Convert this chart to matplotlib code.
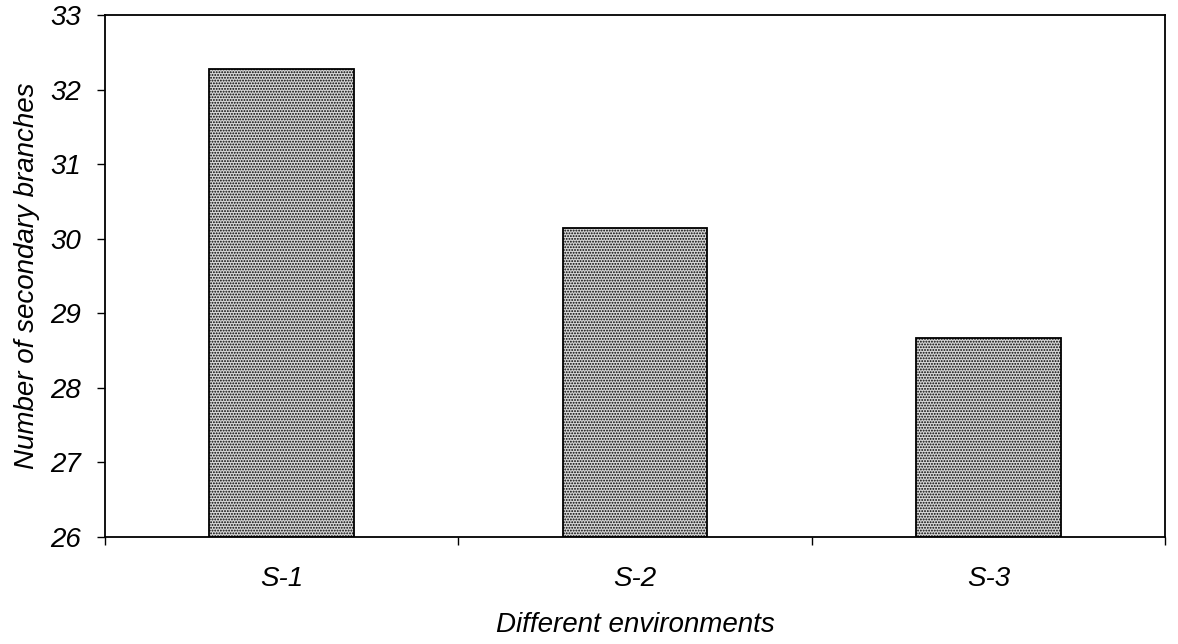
import matplotlib
matplotlib.use("Agg")
import matplotlib.pyplot as plt

categories = ["S-1", "S-2", "S-3"]
values = [32.28, 30.15, 28.67]
yticks = [26, 27, 28, 29, 30, 31, 32, 33]

plt.rcParams['font.family'] = ['Liberation Sans', 'DejaVu Sans']
plt.rcParams['hatch.color'] = '#4a4a4a'
plt.rcParams['hatch.linewidth'] = 0.9

fig = plt.figure(figsize=(11.78, 6.44), dpi=100)
ax = fig.add_axes([105/1178, (644-537)/644, (1165-105)/1178, (537-15)/644])

x = list(range(len(categories)))
ax.bar(x, [v - 26 for v in values], bottom=26, width=0.41, color='#d6d6d6',
       edgecolor='black', linewidth=1.3, hatch='......')

ax.set_xlim(-0.5, 2.5)
ax.set_ylim(26, 33)
ax.set_yticks(yticks)
ax.set_yticklabels([str(t) for t in yticks], fontsize=20, style='italic')
ax.set_xticks(x)
ax.set_xticklabels(categories, fontsize=20, style='italic')
ax.tick_params(axis='x', length=0, pad=21)
ax.tick_params(axis='y', direction='out', length=6, width=1, pad=11)
ax.set_xticks([-0.5, 0.5, 1.5, 2.5], minor=True)
ax.tick_params(axis='x', which='minor', direction='out', length=6, width=1)

for s in ax.spines.values():
    s.set_linewidth(1.3)
    s.set_color('black')

ax.set_ylabel("Number of secondary branches", fontsize=20, style='italic', labelpad=8)
ax.set_xlabel("Different environments", fontsize=20, style='italic', labelpad=14)

fig.savefig("out.png", dpi=100, facecolor='white')
